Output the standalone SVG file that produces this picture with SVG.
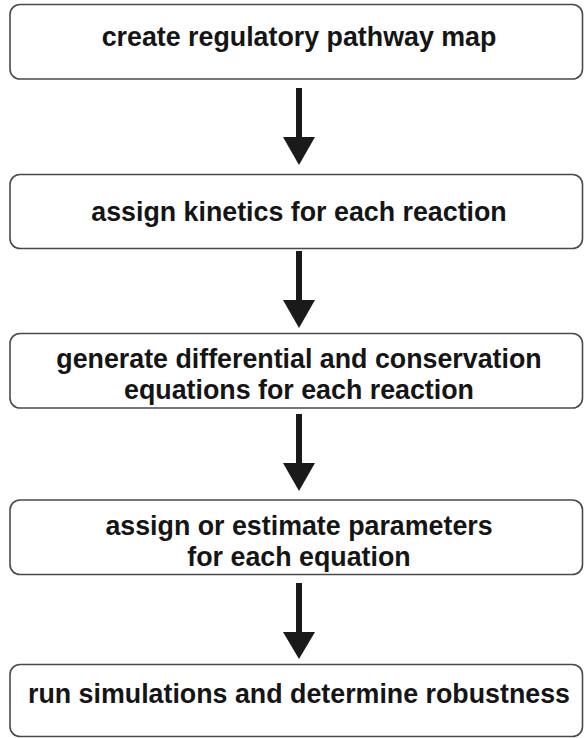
<svg xmlns="http://www.w3.org/2000/svg" width="584" height="738" viewBox="0 0 584 738">
<defs>
<style>
.box{fill:#fff;stroke:#4a4a4a;stroke-width:1.6}
.lbl{font-family:"Liberation Sans",Arial,sans-serif;font-weight:bold;font-size:26.8px;fill:#151515;text-anchor:middle}
.shaft{stroke:#1a1a1a;stroke-width:6;fill:none}
.head{fill:#1a1a1a}
</style>
</defs>
<rect width="584" height="738" fill="#fff"/>
<g id="n1"><rect class="box" x="10" y="4.5" width="572.5" height="74.5" rx="10"/><text class="lbl" x="299" y="46">create regulatory pathway map</text></g>
<g id="n2"><rect class="box" x="10" y="174.5" width="572.5" height="74" rx="10"/><text class="lbl" x="299" y="220.5">assign kinetics for each reaction</text></g>
<g id="n3"><rect class="box" x="10" y="333.5" width="572.5" height="74.5" rx="10"/><text class="lbl" x="299" y="368">generate differential and conservation</text><text class="lbl" x="299" y="399">equations for each reaction</text></g>
<g id="n4"><rect class="box" x="10" y="500" width="572.5" height="74.5" rx="10"/><text class="lbl" x="299" y="535">assign or estimate parameters</text><text class="lbl" x="299" y="566">for each equation</text></g>
<g id="n5"><rect class="box" x="10" y="664.5" width="572.5" height="72" rx="10"/><text class="lbl" x="299" y="703">run simulations and determine robustness</text></g>
<g id="connectors">
<line class="shaft" x1="299" y1="88" x2="299" y2="138"/><polygon class="head" points="283,137 315,137 299,165"/>
<line class="shaft" x1="299" y1="251" x2="299" y2="301"/><polygon class="head" points="283,300 315,300 299,328"/>
<line class="shaft" x1="299" y1="414" x2="299" y2="464"/><polygon class="head" points="283,463 315,463 299,491"/>
<line class="shaft" x1="299" y1="583" x2="299" y2="633"/><polygon class="head" points="283,632 315,632 299,659"/>
</g>
</svg>
